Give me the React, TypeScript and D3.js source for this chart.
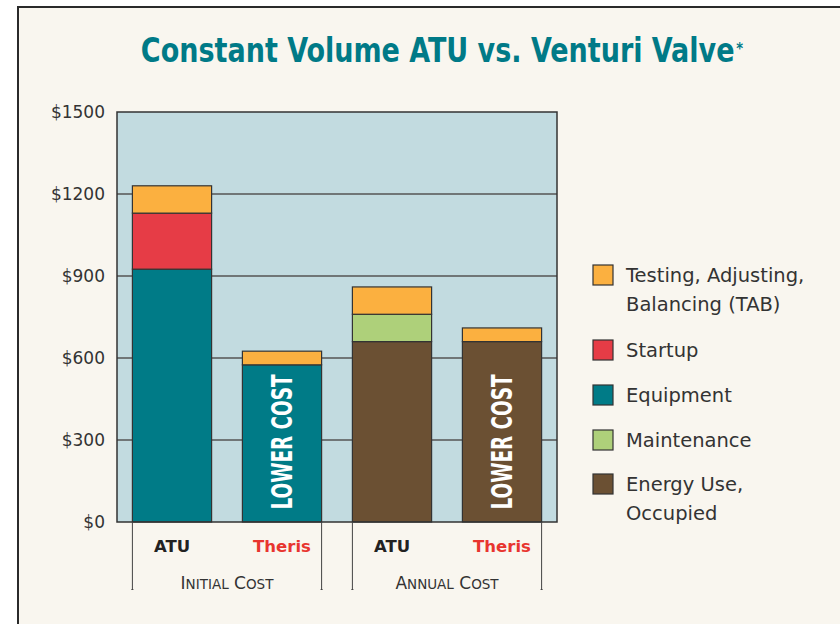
import React from 'react';
import * as d3 from 'd3';

// bars, left to right
const barIds = ['initial-atu', 'initial-theris', 'annual-atu', 'annual-theris'];
const barLabels = ['ATU', 'Theris', 'ATU', 'Theris'];
const lowerCost = [false, true, false, true];

// series values (dollars)
const energyUse = [0, 0, 660, 660];
const equipment = [925, 575, 0, 0];
const startup = [205, 0, 0, 0];
const maintenance = [0, 0, 100, 0];
const tab = [100, 50, 100, 50];

const yTicks = [0, 300, 600, 900, 1200, 1500];

const groups = [
  { first: 'Initial', rest: 'Cost', from: 0, to: 1 },
  { first: 'Annual', rest: 'Cost', from: 2, to: 3 },
];

const seriesKeys = ['energy', 'equipment', 'startup', 'maintenance', 'tab'];
const colors: Record<string, string> = {
  tab: '#fbb040',
  startup: '#e63c46',
  equipment: '#007b87',
  maintenance: '#aed07a',
  energy: '#6b5033',
};

const legendItems = [
  { key: 'tab', lines: ['Testing, Adjusting,', 'Balancing (TAB)'] },
  { key: 'startup', lines: ['Startup'] },
  { key: 'equipment', lines: ['Equipment'] },
  { key: 'maintenance', lines: ['Maintenance'] },
  { key: 'energy', lines: ['Energy Use,', 'Occupied'] },
];

const W = 840;
const H = 624;
const plot = { left: 117, right: 557, top: 112, bottom: 522 };
const font = '"DejaVu Sans", "Liberation Sans", Arial, sans-serif';
const narrow = '"Liberation Sans Narrow", "DejaVu Sans Condensed", "Liberation Sans", sans-serif';

const App: React.FC = () => {
  const x = d3.scaleBand<string>()
    .domain(barIds)
    .range([plot.left, plot.right])
    .paddingInner(0.28)
    .paddingOuter(0.14);

  const y = d3.scaleLinear().domain([0, 1500]).range([plot.bottom, plot.top]);

  const rows = barIds.map((id, i) => ({
    id,
    energy: energyUse[i],
    equipment: equipment[i],
    startup: startup[i],
    maintenance: maintenance[i],
    tab: tab[i],
  }));
  const stacked = d3.stack<any>().keys(seriesKeys)(rows);

  const bw = x.bandwidth();
  const legendY = [265, 340, 385, 430, 474];

  return (
    <div style={{ position: 'absolute', left: 0, top: 0 }}>
      <svg width={W} height={H} style={{ display: 'block' }}>
        <rect x={0} y={0} width={W} height={H} fill="#ffffff" />
        <rect x={18} y={7} width={W} height={H} fill="#f9f6ef" stroke="#2a2a2a" strokeWidth={2} />

        {/* title */}
        <g transform="translate(442,62) scale(0.91,1)">
          <text x={0} y={0} textAnchor="middle" fill="#007a87" fontFamily={narrow} fontWeight="bold" fontSize={33}>
            Constant Volume ATU vs. Venturi Valve<tspan fontSize={16} dx={2} dy={-8}>*</tspan>
          </text>
        </g>

        {/* plot background */}
        <rect x={plot.left} y={plot.top} width={plot.right - plot.left} height={plot.bottom - plot.top} fill="#c2dbe0" />

        {/* grid lines */}
        {yTicks.filter(t => t > 0 && t < 1500).map(t => (
          <line key={t} x1={plot.left} x2={plot.right} y1={y(t)} y2={y(t)} stroke="#555" strokeWidth={1.5} />
        ))}

        {/* stacked bars */}
        {stacked.map(layer => (
          <g key={layer.key}>
            {layer.map((d, i) => {
              if (d[1] - d[0] <= 0) return null;
              return (
                <rect
                  key={barIds[i]}
                  x={x(barIds[i])}
                  y={y(d[1])}
                  width={bw}
                  height={y(d[0]) - y(d[1])}
                  fill={colors[layer.key]}
                  stroke="#333"
                  strokeWidth={1.2}
                />
              );
            })}
          </g>
        ))}

        {/* lower cost labels */}
        {barIds.map((id, i) => lowerCost[i] ? (
          <text
            key={id}
            transform={`translate(${(x(id) as number) + bw / 2 + 10},${442}) rotate(-90)`}
            textAnchor="middle"
            fill="#ffffff"
            fontFamily={narrow}
            fontWeight="bold"
            fontSize={28}
            textLength={135}
            lengthAdjust="spacingAndGlyphs"
          >
            LOWER COST
          </text>
        ) : null)}

        {/* plot border */}
        <rect x={plot.left} y={plot.top} width={plot.right - plot.left} height={plot.bottom - plot.top} fill="none" stroke="#333" strokeWidth={1.5} />

        {/* y tick labels */}
        {yTicks.map(t => (
          <text key={t} x={105} y={y(t) + 6} textAnchor="end" fill="#333" fontFamily={font} fontSize={17}>
            ${t}
          </text>
        ))}

        {/* bar labels */}
        {barIds.map((id, i) => (
          <text
            key={id}
            x={(x(id) as number) + bw / 2}
            y={552}
            textAnchor="middle"
            fill={barLabels[i] === 'Theris' ? '#e8352f' : '#222'}
            fontFamily={font}
            fontWeight="bold"
            fontSize={16.5}
          >
            {barLabels[i]}
          </text>
        ))}

        {/* group brackets */}
        {groups.map(g => {
          const x0 = x(barIds[g.from]) as number;
          const x1 = (x(barIds[g.to]) as number) + bw;
          return (
            <g key={g.first}>
              {[x0, x1].map((xx, k) => (
                <g key={k}>
                  <line x1={xx} x2={xx} y1={plot.bottom} y2={590} stroke="#444" strokeWidth={1} />
                  <line x1={xx - 1} x2={xx + 1} y1={589.5} y2={589.5} stroke="#444" strokeWidth={1} />
                </g>
              ))}
              <text x={(x0 + x1) / 2} y={589} textAnchor="middle" fill="#333" fontFamily={font} fontSize={17}>
                {g.first[0]}
                <tspan fontSize={13.5}>{g.first.slice(1).toUpperCase()}</tspan>
                {' '}{g.rest[0]}
                <tspan fontSize={13.5}>{g.rest.slice(1).toUpperCase()}</tspan>
              </text>
            </g>
          );
        })}

        {/* legend */}
        {legendItems.map((item, i) => (
          <g key={item.key} transform={`translate(593,${legendY[i]})`}>
            <rect x={0} y={0} width={20} height={20} fill={colors[item.key]} stroke="#333" strokeWidth={1.2} />
            {item.lines.map((ln, j) => (
              <text key={j} x={33} y={17 + j * 29} fill="#333" fontFamily={font} fontSize={19.5}>
                {ln}
              </text>
            ))}
          </g>
        ))}
      </svg>
    </div>
  );
};

export default App;
